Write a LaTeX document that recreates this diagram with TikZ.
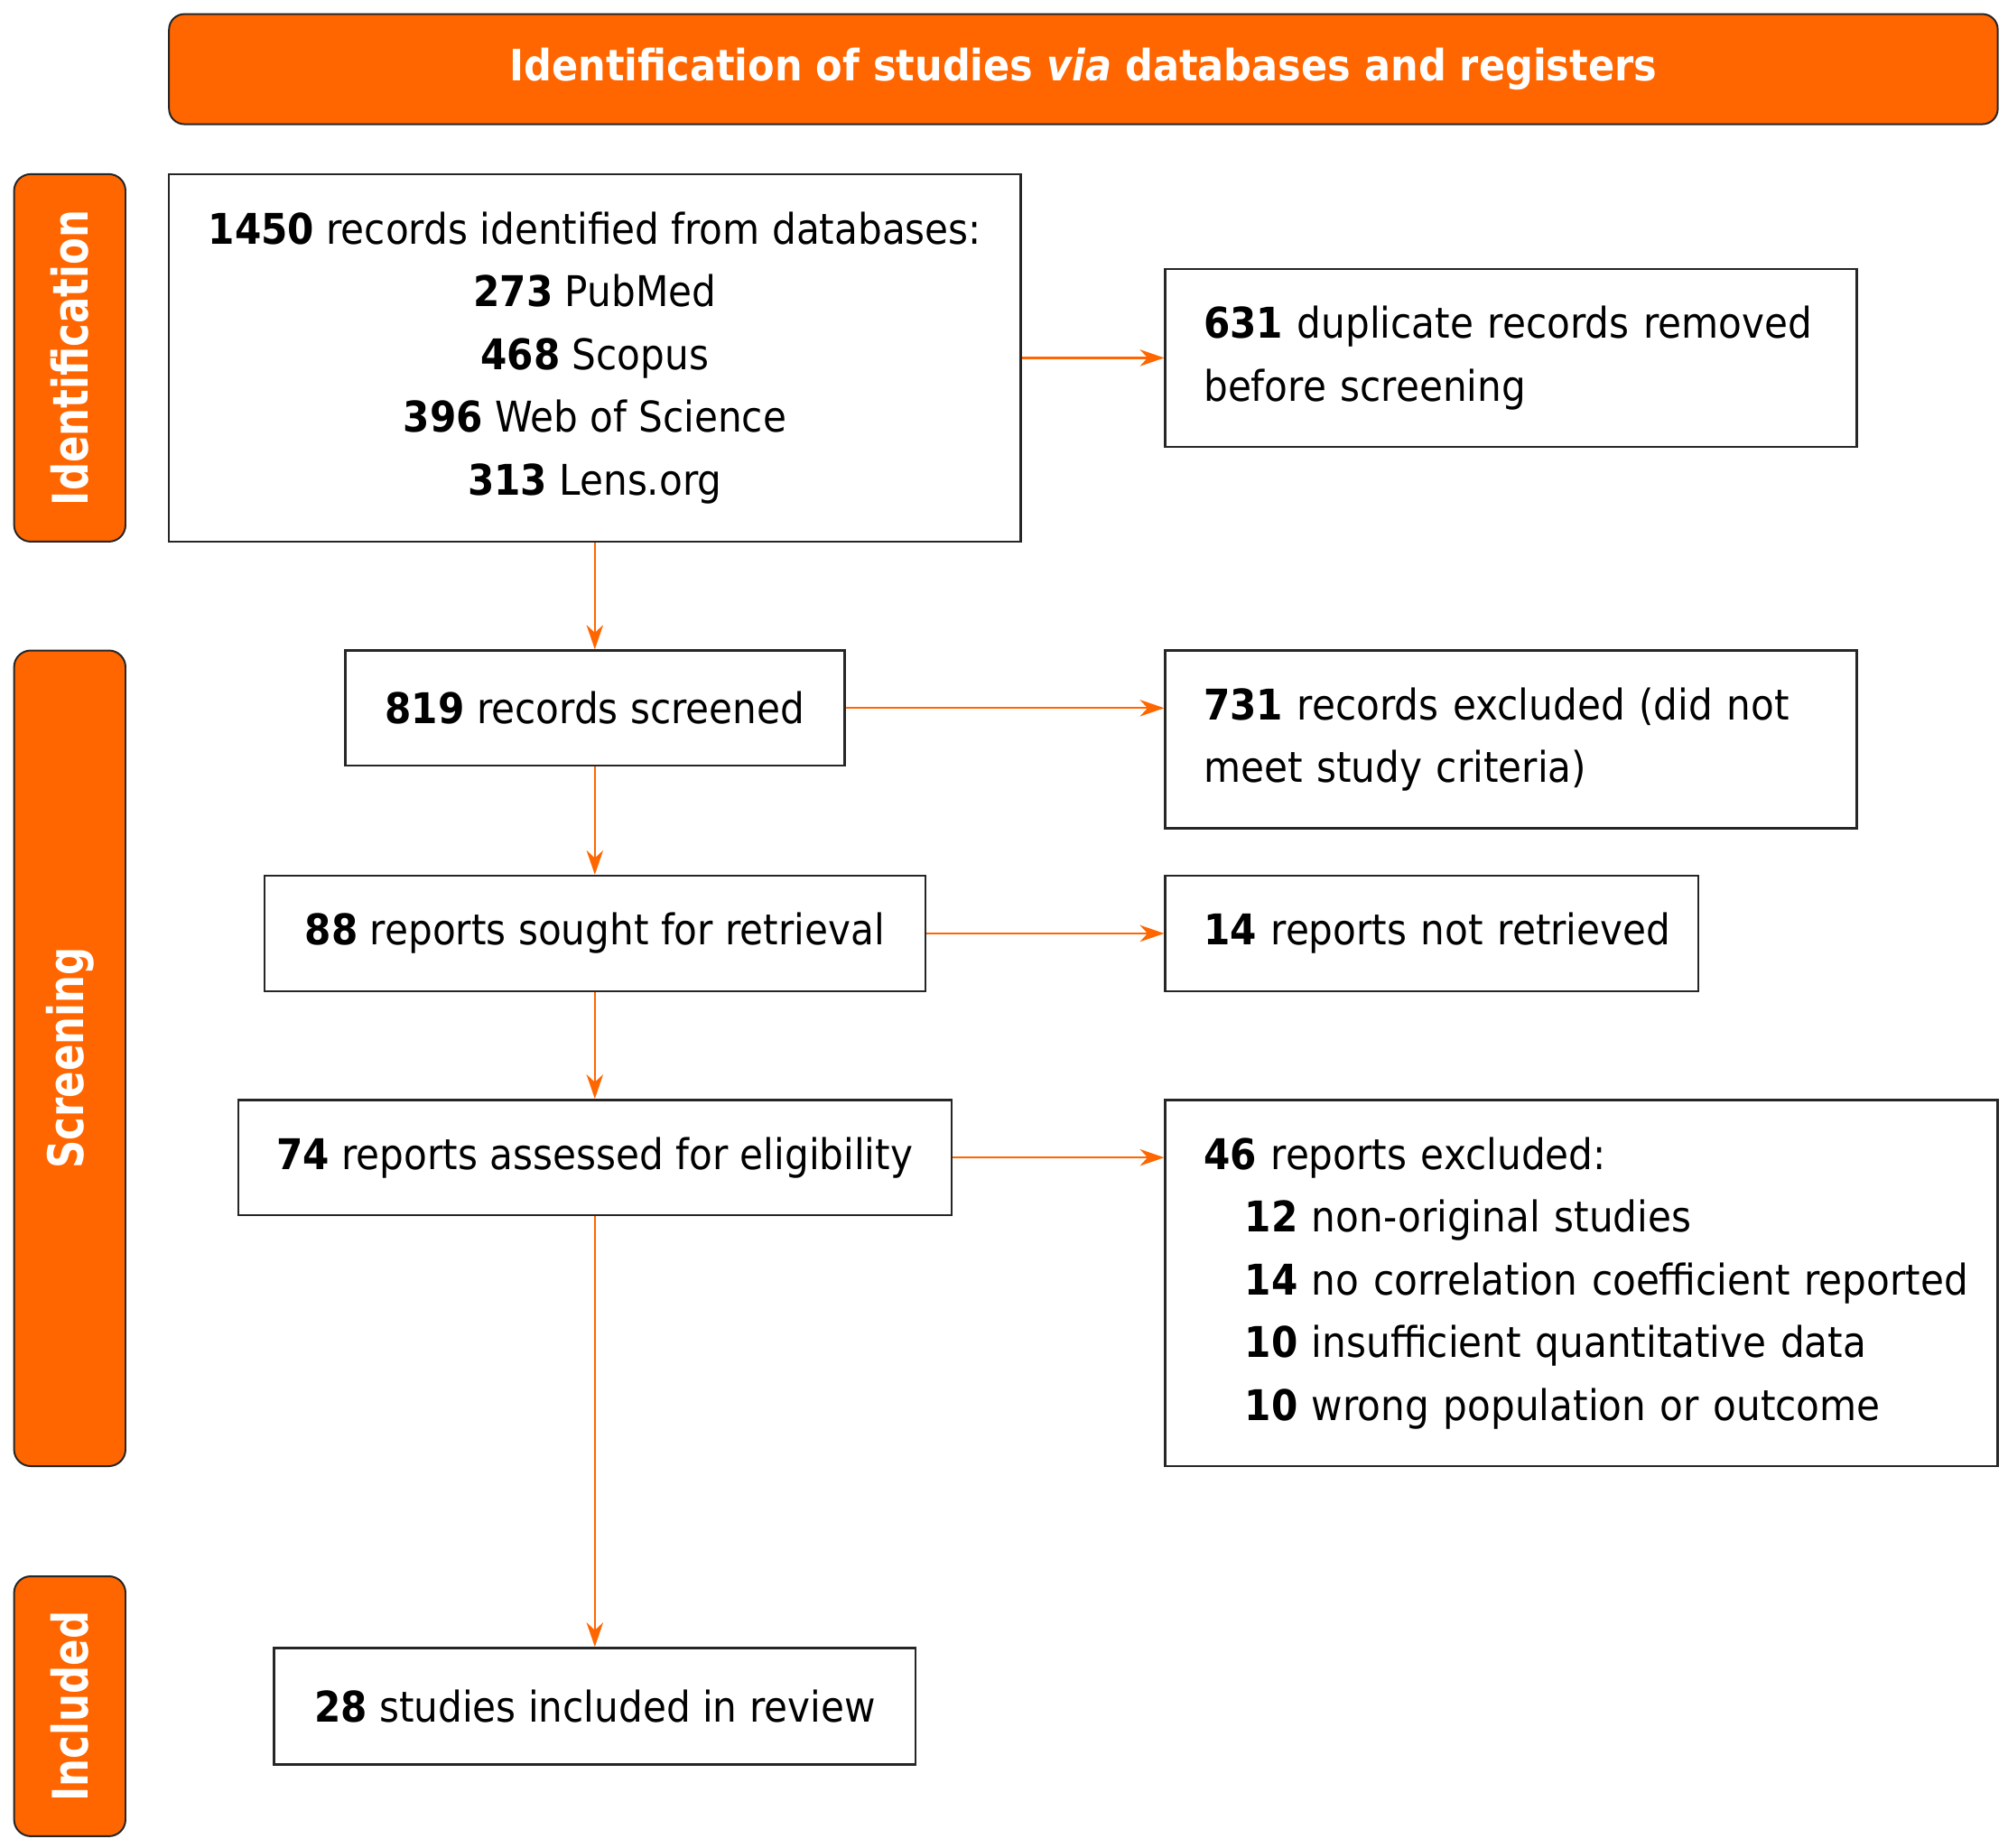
\documentclass[tikz,border=0pt]{standalone}
\usepackage{fontspec}
\usepackage{tikz}
\setmainfont{DejaVu Sans}[FakeStretch=0.9]
\newfontfamily\sidefont{DejaVu Sans}[FakeStretch=0.8]
\usetikzlibrary{arrows.meta}
\definecolor{prisma}{HTML}{FF6600}

\tikzset{
  box/.style={draw=black!85, line width=0.5pt, fill=white, inner sep=0pt, align=center,
    font=\fontsize{9.4}{13.94}\selectfont},
  leftbox/.style={box, align=left, inner xsep=3mm},
  head/.style={draw=black!85, line width=0.4pt, fill=prisma, rounded corners=1.2mm, text=white,
    inner sep=0pt, font=\bfseries\fontsize{9.6}{12}\selectfont},
  side/.style={draw=black!85, line width=0.4pt, fill=prisma, rounded corners=1.3mm, text=white,
    rotate=90, inner sep=0pt, minimum height=8.7mm, font=\sidefont\bfseries\fontsize{10.9}{13}\selectfont},
  flow/.style={draw=prisma, line width=0.45pt, -{Stealth[length=1.9mm,width=1.3mm,inset=0.6mm]}}
}

\begin{document}
\begin{tikzpicture}[x=0.1mm, y=-0.1mm]
\useasboundingbox (0,0) rectangle (1568,1443);

% header and phases
\node[head, minimum width=142.8mm, minimum height=8.6mm] (title) at (846,54)
  {\raisebox{-0.4mm}{Identification of studies \textit{via} databases and registers}};
\node[side, minimum width=28.7mm] (idn) at (54.5,279.5) {Identification};
\node[side, minimum width=63.7mm] (scn) at (54.5,826.5) {Screening};
\node[side, minimum width=20.3mm] (inc) at (54.5,1332.5) {Included};

% main column
\node[box, minimum width=66.5mm, minimum height=28.7mm] (recs) at (464.5,279.5)
  {\textbf{1450} records identified from databases:\\ \textbf{273} PubMed\\ \textbf{468} Scopus\\
   \textbf{396} Web of Science\\ \textbf{313} Lens.org};
\node[box, minimum width=39mm, minimum height=9mm] (scr) at (464.5,553)
  {\textbf{819} records screened};
\node[box, minimum width=51.6mm, minimum height=9mm] (sought) at (464.5,729)
  {\textbf{88} reports sought for retrieval};
\node[box, minimum width=55.7mm, minimum height=9mm] (elig) at (464.5,904)
  {\textbf{74} reports assessed for eligibility};
\node[box, minimum width=50.1mm, minimum height=9.1mm] (incl) at (464.5,1332.5)
  {\textbf{28} studies included in review};

% exclusions
\node[leftbox, text width=48mm, minimum height=13.9mm] (dup) at (1180,279.5)
  {\mbox{\textbf{631} duplicate records removed}\\ before screening};
\node[leftbox, text width=48mm, minimum height=13.9mm] (excl) at (1180,577.5)
  {\mbox{\textbf{731} records excluded (did not}\\ meet study criteria)};
\node[leftbox, text width=35.6mm, minimum height=9mm] (notret) at (1118,729)
  {\mbox{\textbf{14} reports not retrieved}};
\node[leftbox, text width=59mm, minimum height=28.6mm] (rexcl) at (1235,1002)
  {\mbox{\textbf{46} reports excluded:}\\
   \mbox{\hspace*{3.2mm}\textbf{12} non-original studies}\\
   \mbox{\hspace*{3.2mm}\textbf{14} no correlation coefficient reported}\\
   \mbox{\hspace*{3.2mm}\textbf{10} insufficient quantitative data}\\
   \mbox{\hspace*{3.2mm}\textbf{10} wrong population or outcome}};

% arrows
\draw[flow] (recs) -- (scr);
\draw[flow] (scr) -- (sought);
\draw[flow] (sought) -- (elig);
\draw[flow] (elig) -- (incl);
\draw[flow] (recs) -- (dup);
\draw[flow] (scr.east) -- (scr.east -| excl.west);
\draw[flow] (sought) -- (notret);
\draw[flow] (elig.east) -- (elig.east -| rexcl.west);
\end{tikzpicture}
\end{document}
